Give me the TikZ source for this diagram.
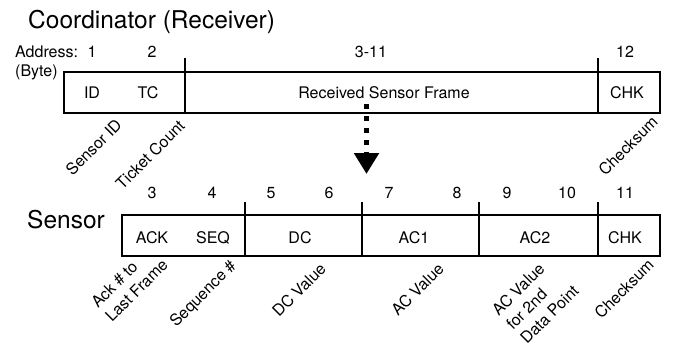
\documentclass[tikz,border=0pt]{standalone}
\usepackage{fontspec}
\setmainfont{TeX Gyre Heros}
\usetikzlibrary{arrows.meta}
\begin{document}
\begin{tikzpicture}[x=1pt,y=1pt,
  fld/.style={font=\fontsize{16}{19}\selectfont, inner sep=0pt, anchor=base},
  num/.style={font=\fontsize{16}{19}\selectfont, inner sep=0pt, anchor=base},
  rotlbl/.style={font=\fontsize{16}{20}\selectfont, rotate=45, inner sep=0pt, align=left},
  ttl/.style={font=\fontsize{24.5}{28}\selectfont, inner sep=0pt, anchor=base west},
  frameline/.style={line width=2.6pt},
  divthick/.style={line width=2.4pt},
  divider/.style={line width=1.6pt},
  dotarrow/.style={line width=5.5pt, dash pattern=on 5pt off 7pt, -{Triangle[width=24pt,length=21pt]}}]
\useasboundingbox (0,0) rectangle (677,-348);

% ---------- Coordinator ----------
\node[ttl] (ctitle) at (28,-28.5) {Coordinator (Receiver)};
\node[num, anchor=base west] (addr) at (15,-57) {Address:};
\node[num] (a1) at (92,-57) {1};
\node[num] (a2) at (152,-57) {2};
\node[num] (a311) at (371,-57) {3-11};
\node[num] (a12) at (625,-57) {12};
\node[num, anchor=base west] (byte) at (15,-76) {(Byte)};

\draw[frameline] (64,-72) rectangle (660,-113);
\draw[divthick] (185,-58) -- (185,-113);
\draw[divider] (598,-58) -- (598,-113);

\node[fld] (cid) at (92,-98) {ID};
\node[fld] (ctc) at (148,-98) {TC};
\node[fld] (crsf) at (384,-98) {Received Sensor Frame};
\node[fld] (cchk) at (627,-98) {CHK};

\node[rotlbl, anchor=base east] (lsid) at (123,-126) {Sensor ID};
\node[rotlbl, anchor=base east] (ltc) at (186,-127) {Ticket Count};
\node[rotlbl, anchor=base east] (lcs1) at (659,-123) {Checksum};

% ---------- arrow ----------
\coordinate (arrS) at (366.5,-104);
\coordinate (arrE) at (366.5,-174);
\draw[dotarrow] (arrS) -- (arrE);

% ---------- Sensor ----------
\node[ttl] (stitle) at (27,-228) {Sensor};
\node[num] (b3) at (152,-198) {3};
\node[num] (b4) at (212,-198) {4};
\node[num] (b5) at (271,-198) {5};
\node[num] (b6) at (329,-198) {6};
\node[num] (b7) at (389,-198) {7};
\node[num] (b8) at (457,-198) {8};
\node[num] (b9) at (507,-198) {9};
\node[num] (b10) at (567,-198) {10};
\node[num] (b11) at (625,-198) {11};

\draw[frameline] (122,-215) rectangle (660,-256);
\draw[divider] (245,-202) -- (245,-256);
\draw[divider] (362,-202) -- (362,-256);
\draw[divider] (479,-202) -- (479,-256);
\draw[divider] (598,-202) -- (598,-256);

\node[fld] (sack) at (152,-243) {ACK};
\node[fld] (sseq) at (213,-243) {SEQ};
\node[fld] (sdc) at (300,-243) {DC};
\node[fld] (sac1) at (414,-243) {AC1};
\node[fld] (sac2) at (535,-243) {AC2};
\node[fld] (schk) at (625,-243) {CHK};

\node[rotlbl, anchor=base west] (lack) at (112,-323) {Ack \# to\\Last Frame};
\node[rotlbl, anchor=base east] (lseq) at (237,-267) {Sequence \#};
\node[rotlbl, anchor=base east] (ldc) at (327,-270) {DC Value};
\node[rotlbl, anchor=base east] (lac) at (445,-270) {AC Value};
\node[rotlbl, anchor=base west] (lac2) at (527,-345) {AC Value\\for 2nd\\Data Point};
\node[rotlbl, anchor=base east] (lcs2) at (655,-266) {Checksum};
\end{tikzpicture}
\end{document}
